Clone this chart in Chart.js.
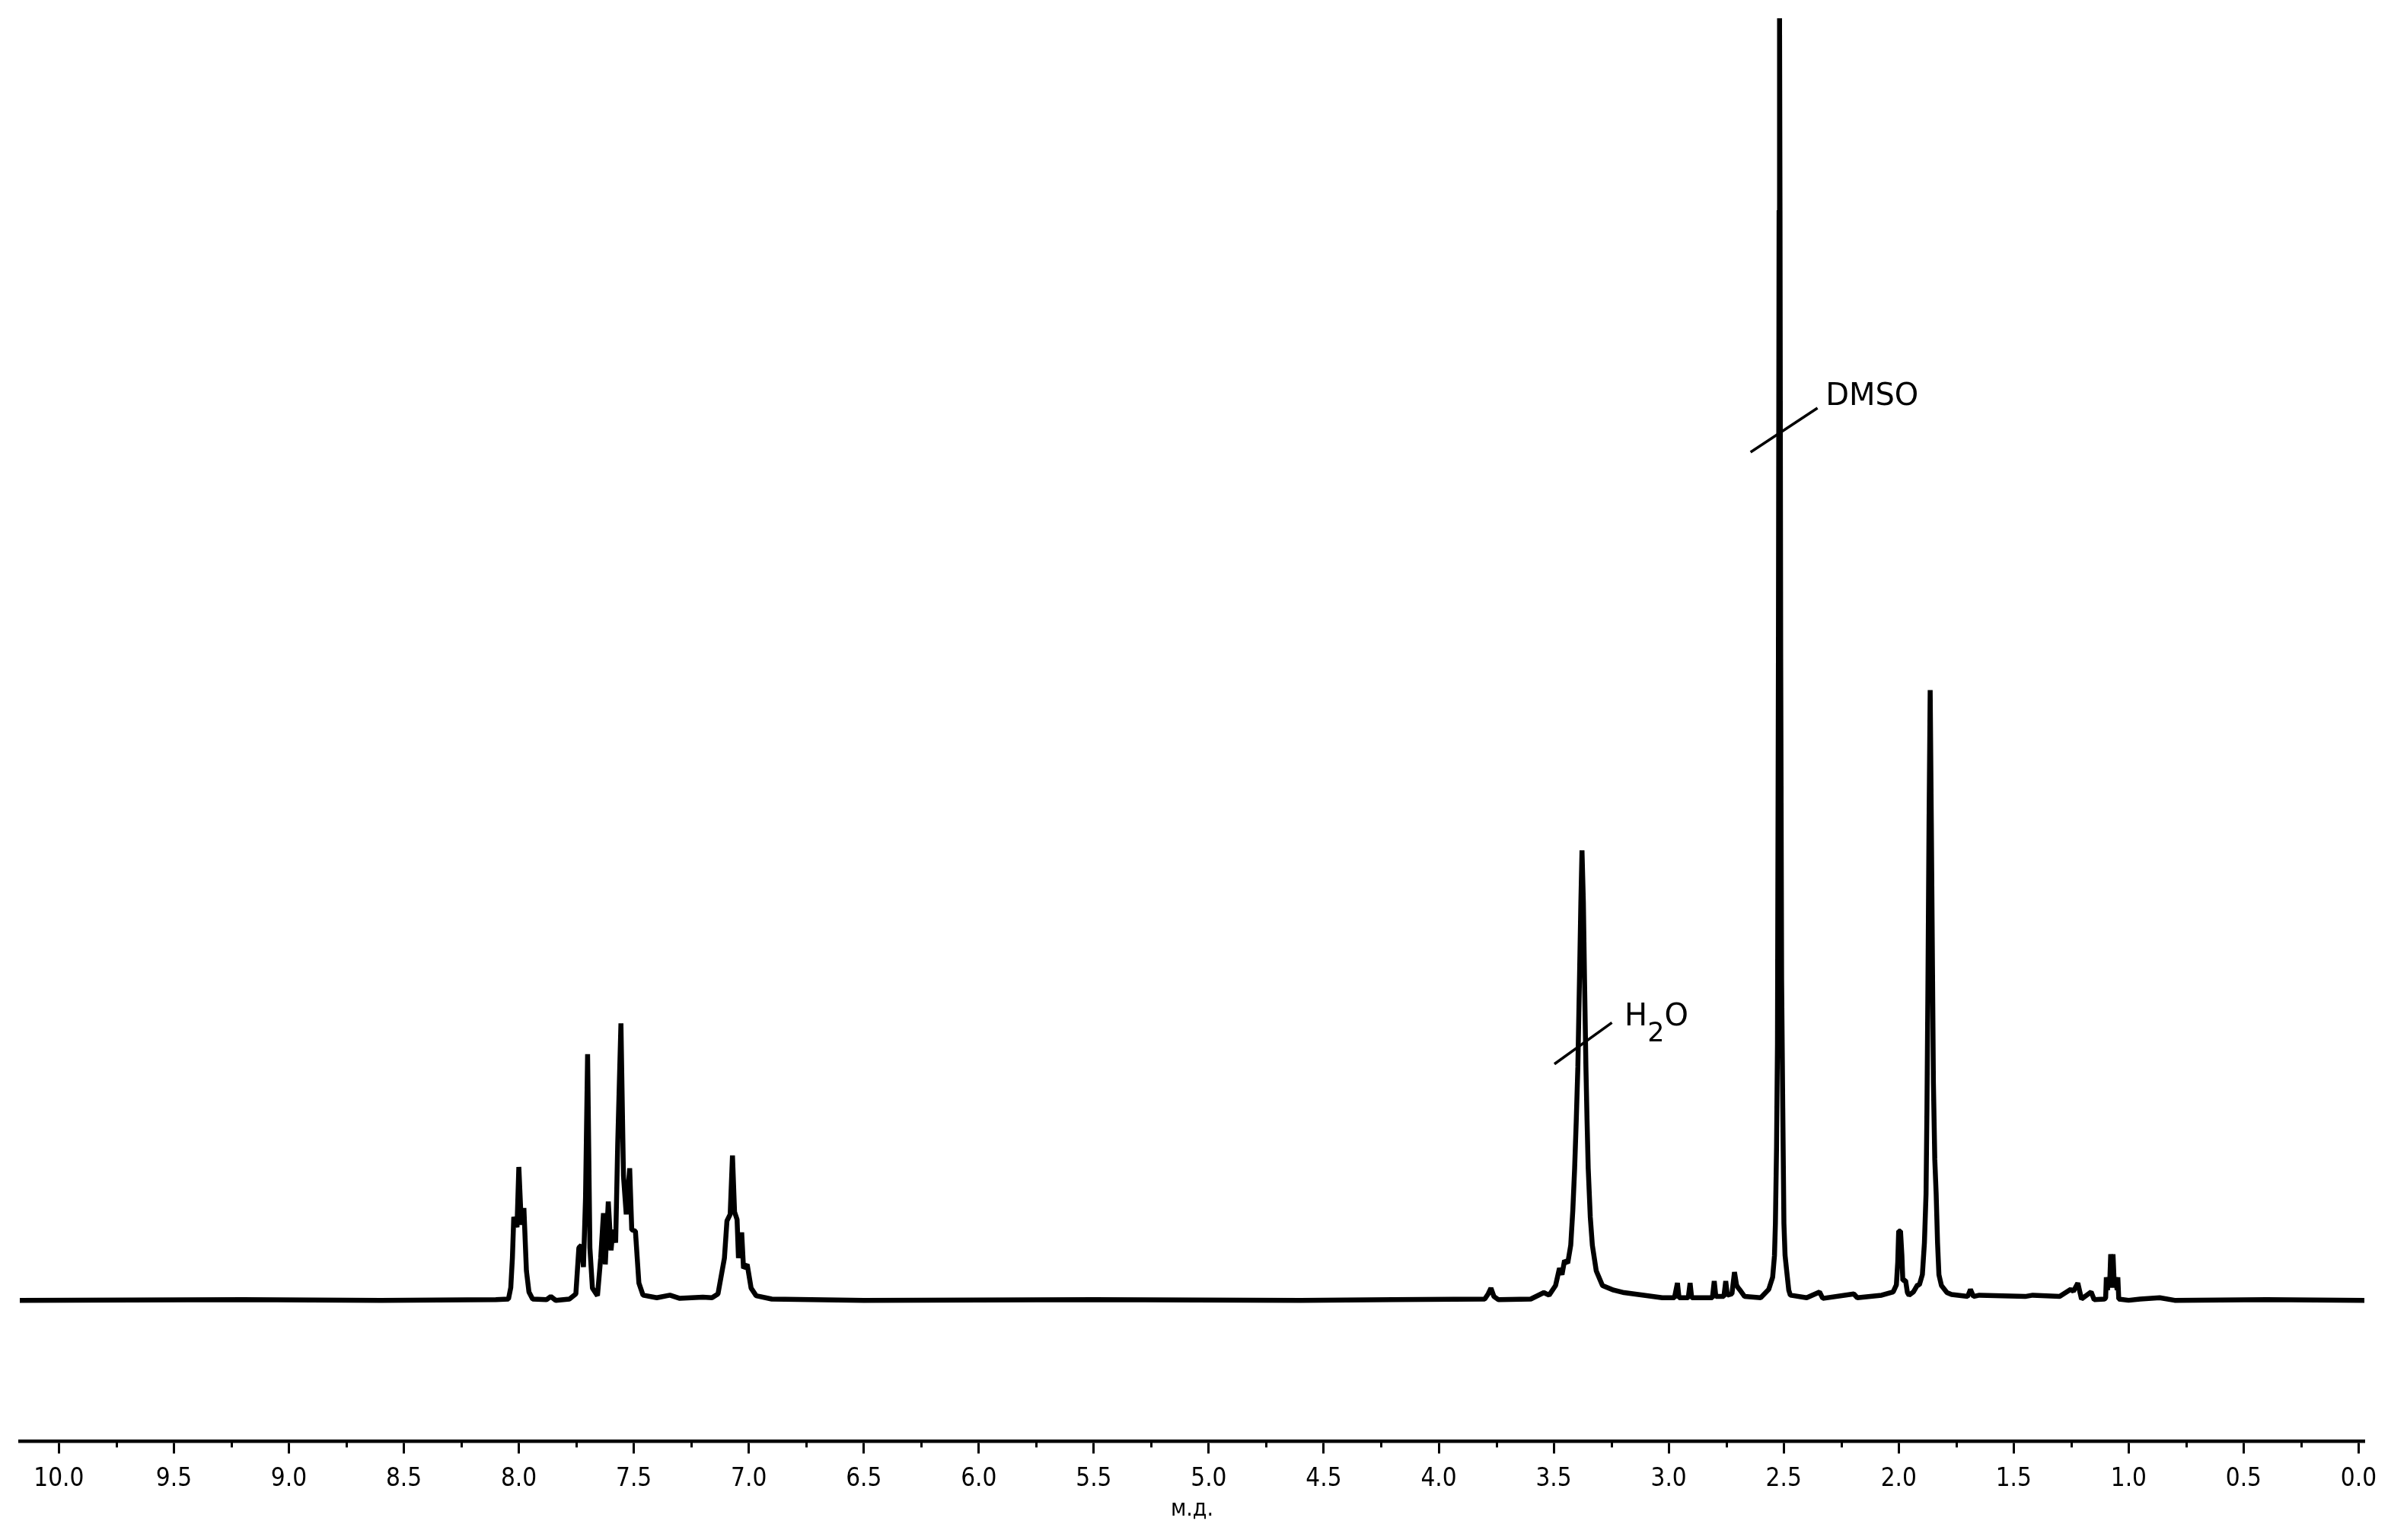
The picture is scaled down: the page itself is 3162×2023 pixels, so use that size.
<!DOCTYPE html>
<html>
<head>
<meta charset="utf-8">
<title>1H NMR spectrum</title>
<script src="https://cdn.jsdelivr.net/npm/chart.js@4.4.1/dist/chart.umd.min.js"></script>
<style>
  html, body { margin: 0; padding: 0; background: #ffffff; }
  #spectrum { display: block; }
</style>
</head>
<body>
<canvas id="spectrum" width="3162" height="2023"></canvas>
<script>
// chemical shift (ppm) / relative intensity pairs
const baselineLeft = [[10.17, 0], [9.2, 0.05], [8.6, 0.0], [8.10, 0.05]];

const aromatic = [
  [8.045, 0.1], [8.035, 1.0], [8.028, 3.3], [8.022, 6.5], [8.008, 5.7], [8.000, 10.4],
  [7.989, 5.9], [7.978, 7.2], [7.967, 2.3], [7.956, 0.65], [7.940, 0.1], [7.880, 0.05],
  [7.861, 0.3], [7.840, 0.0], [7.780, 0.1], [7.752, 0.5], [7.739, 4.1], [7.728, 4.3],
  [7.719, 2.6], [7.710, 8.0], [7.701, 19.2], [7.691, 4.1], [7.680, 0.95], [7.658, 0.36],
  [7.644, 3.3], [7.632, 6.8], [7.624, 2.8], [7.611, 7.7], [7.599, 3.9], [7.591, 5.5],
  [7.579, 4.5], [7.570, 12.2], [7.556, 21.6], [7.545, 9.7], [7.533, 6.7], [7.518, 10.3],
  [7.509, 5.5], [7.493, 5.4], [7.478, 1.35], [7.460, 0.4], [7.400, 0.2], [7.343, 0.4],
  [7.300, 0.15], [7.200, 0.25], [7.160, 0.2], [7.134, 0.5], [7.106, 3.3], [7.095, 6.2],
  [7.081, 6.7], [7.071, 11.3], [7.062, 6.9], [7.051, 6.3], [7.045, 3.3], [7.031, 5.3],
  [7.023, 2.5], [7.007, 2.8], [6.990, 0.95], [6.968, 0.36], [6.900, 0.1]
];

const baselineMid = [[6.5, 0.0], [5.5, 0.05], [4.6, 0.0], [4.2, 0.05], [3.80, 0.1]];

const water = [
  [3.785, 0.5], [3.773, 0.95], [3.760, 0.3], [3.740, 0.05], [3.600, 0.1], [3.543, 0.6],
  [3.520, 0.4], [3.492, 1.15], [3.475, 2.5], [3.464, 2.0], [3.453, 3.1], [3.439, 2.9],
  [3.426, 4.3], [3.417, 7.0], [3.409, 10.3], [3.402, 14.0], [3.395, 18.2], [3.388, 25.0],
  [3.382, 31.0], [3.377, 35.1], [3.371, 31.0], [3.366, 25.0], [3.360, 18.2], [3.355, 14.0],
  [3.350, 10.3], [3.341, 6.5], [3.332, 4.3], [3.315, 2.3], [3.288, 1.15], [3.240, 0.8],
  [3.194, 0.6], [3.028, 0.2]
];

const smallPeaks = [
  [2.975, 0.2], [2.962, 1.35], [2.955, 0.2], [2.915, 0.2], [2.907, 1.35], [2.900, 0.2],
  [2.810, 0.2], [2.802, 1.5], [2.795, 0.3], [2.760, 0.3], [2.752, 1.5], [2.745, 0.4],
  [2.725, 0.5], [2.714, 2.2], [2.705, 1.2], [2.699, 1.0], [2.686, 0.7], [2.670, 0.3],
  [2.600, 0.2]
];

const dmso = [
  [2.565, 0.85], [2.548, 1.8], [2.540, 3.5], [2.536, 6.0], [2.531, 12.0], [2.527, 20.0],
  [2.523, 50.0], [2.520, 85.0], [2.518, 100.0], [2.516, 85.0], [2.513, 50.0], [2.509, 25.0],
  [2.504, 15.0], [2.499, 6.0], [2.494, 3.5], [2.487, 2.3], [2.478, 0.8], [2.471, 0.4],
  [2.400, 0.2], [2.344, 0.65], [2.330, 0.15], [2.195, 0.5], [2.180, 0.2], [2.074, 0.4]
];

const acetyl = [
  [2.024, 0.65], [2.010, 1.2], [2.004, 3.0], [2.000, 5.4], [1.992, 5.4], [1.986, 3.5],
  [1.982, 1.55], [1.970, 1.55], [1.962, 0.6], [1.955, 0.4], [1.936, 0.65], [1.918, 1.2],
  [1.910, 1.2], [1.897, 2.0], [1.888, 4.5], [1.881, 8.3], [1.877, 15.0], [1.873, 24.0],
  [1.868, 37.2], [1.863, 47.6], [1.858, 37.2], [1.853, 26.0], [1.849, 17.0], [1.843, 11.0],
  [1.837, 8.3], [1.831, 4.5], [1.825, 2.0], [1.814, 1.15], [1.790, 0.6], [1.770, 0.45]
];

const highField = [
  [1.700, 0.3], [1.688, 0.85], [1.675, 0.3], [1.649, 0.4], [1.450, 0.3], [1.417, 0.4],
  [1.300, 0.3], [1.252, 0.85], [1.240, 0.7], [1.221, 1.35], [1.205, 0.1], [1.163, 0.65],
  [1.150, 0.05], [1.105, 0.1], [1.100, 0.2], [1.097, 1.8], [1.092, 0.8], [1.088, 1.8],
  [1.083, 1.0], [1.078, 3.6], [1.072, 1.2], [1.068, 3.6], [1.062, 1.0], [1.057, 1.8],
  [1.050, 0.8], [1.047, 1.8], [1.043, 0.1], [1.000, 0.0], [0.950, 0.1], [0.865, 0.2],
  [0.800, 0.0], [0.400, 0.05], [-0.025, 0.0]
];

const majorTicks = [10.0, 9.5, 9.0, 8.5, 8.0, 7.5, 7.0, 6.5, 6.0, 5.5, 5.0, 4.5, 4.0, 3.5, 3.0, 2.5, 2.0, 1.5, 1.0, 0.5, 0.0];
const minorTicks = [9.75, 9.25, 8.75, 8.25, 7.75, 7.25, 6.75, 6.25, 5.75, 5.25, 4.75, 4.25, 3.75, 3.25, 2.75, 2.25, 1.75, 1.25, 0.75, 0.25];
const axisTitle = 'м.д.';

// solvent labels: tilted marker line (from, to) and text anchor, in ppm / intensity
const solventLabels = [
  { text: 'DMSO', sub: null, tail: null, from: [2.644, 66.15], to: [2.353, 69.6], at: [2.318, 69.86] },
  { text: 'H', sub: '2', tail: 'O', from: [3.497, 18.43], to: [3.247, 21.66], at: [3.192, 21.42] }
];

const spectrum = [].concat(baselineLeft, aromatic, baselineMid, water, smallPeaks, dmso, acetyl, highField)
  .map(p => ({ x: p[0], y: p[1] }));

const labelFont = "'DejaVu Sans Condensed', 'Liberation Sans Narrow', 'DejaVu Sans', sans-serif";
const annotFont = "'DejaVu Sans', Verdana, sans-serif";

const extras = {
  id: 'extras',
  afterDraw(chart) {
    const ctx = chart.ctx;
    const xs = chart.scales.x, ys = chart.scales.y;
    ctx.save();
    // minor ticks
    ctx.strokeStyle = '#000';
    ctx.lineWidth = 3;
    minorTicks.forEach(v => {
      const px = Math.round(xs.getPixelForValue(v)) + 0.5;
      ctx.beginPath();
      ctx.moveTo(px, xs.top);
      ctx.lineTo(px, xs.top + 8);
      ctx.stroke();
    });
    // solvent annotations
    solventLabels.forEach(l => {
      ctx.lineWidth = 3.5;
      ctx.beginPath();
      ctx.moveTo(xs.getPixelForValue(l.from[0]), ys.getPixelForValue(l.from[1]));
      ctx.lineTo(xs.getPixelForValue(l.to[0]), ys.getPixelForValue(l.to[1]));
      ctx.stroke();
      let tx = xs.getPixelForValue(l.at[0]);
      const ty = ys.getPixelForValue(l.at[1]);
      ctx.fillStyle = '#000';
      ctx.textBaseline = 'alphabetic';
      ctx.textAlign = 'left';
      ctx.font = '40px ' + annotFont;
      ctx.fillText(l.text, tx, ty);
      if (l.sub) {
        tx += ctx.measureText(l.text).width;
        ctx.font = '35px ' + annotFont;
        ctx.fillText(l.sub, tx, ty + 21);
        tx += ctx.measureText(l.sub).width;
        ctx.font = '40px ' + annotFont;
        ctx.fillText(l.tail, tx, ty);
      }
    });
    ctx.restore();
  }
};

new Chart(document.getElementById('spectrum'), {
  type: 'line',
  data: {
    datasets: [{
      data: spectrum,
      borderColor: '#000000',
      borderWidth: 6.5,
      borderJoinStyle: 'bevel',
      pointRadius: 0,
      tension: 0,
      fill: false
    }]
  },
  options: {
    responsive: false,
    animation: false,
    devicePixelRatio: 1,
    layout: { padding: { left: 26, right: 56, top: 24, bottom: 34 } },
    plugins: { legend: { display: false }, tooltip: { enabled: false } },
    scales: {
      x: {
        type: 'linear',
        reverse: true,
        min: -0.025,
        max: 10.17,
        afterBuildTicks(scale) {
          scale.ticks = majorTicks.map(v => ({ value: v }));
        },
        border: { display: true, color: '#000', width: 4.5 },
        grid: {
          drawOnChartArea: false,
          drawTicks: true,
          tickLength: 16,
          tickWidth: 3,
          tickColor: '#000'
        },
        ticks: {
          color: '#000',
          padding: 14,
          maxRotation: 0,
          autoSkip: false,
          font: { family: labelFont, size: 33 },
          callback: v => v.toFixed(1)
        },
        title: {
          display: true,
          text: axisTitle,
          color: '#000',
          padding: { top: 0, bottom: 0 },
          font: { family: labelFont, size: 30, lineHeight: 0.4 }
        }
      },
      y: {
        display: false,
        min: -11,
        max: 100
      }
    }
  },
  plugins: [extras]
});
</script>
</body>
</html>
